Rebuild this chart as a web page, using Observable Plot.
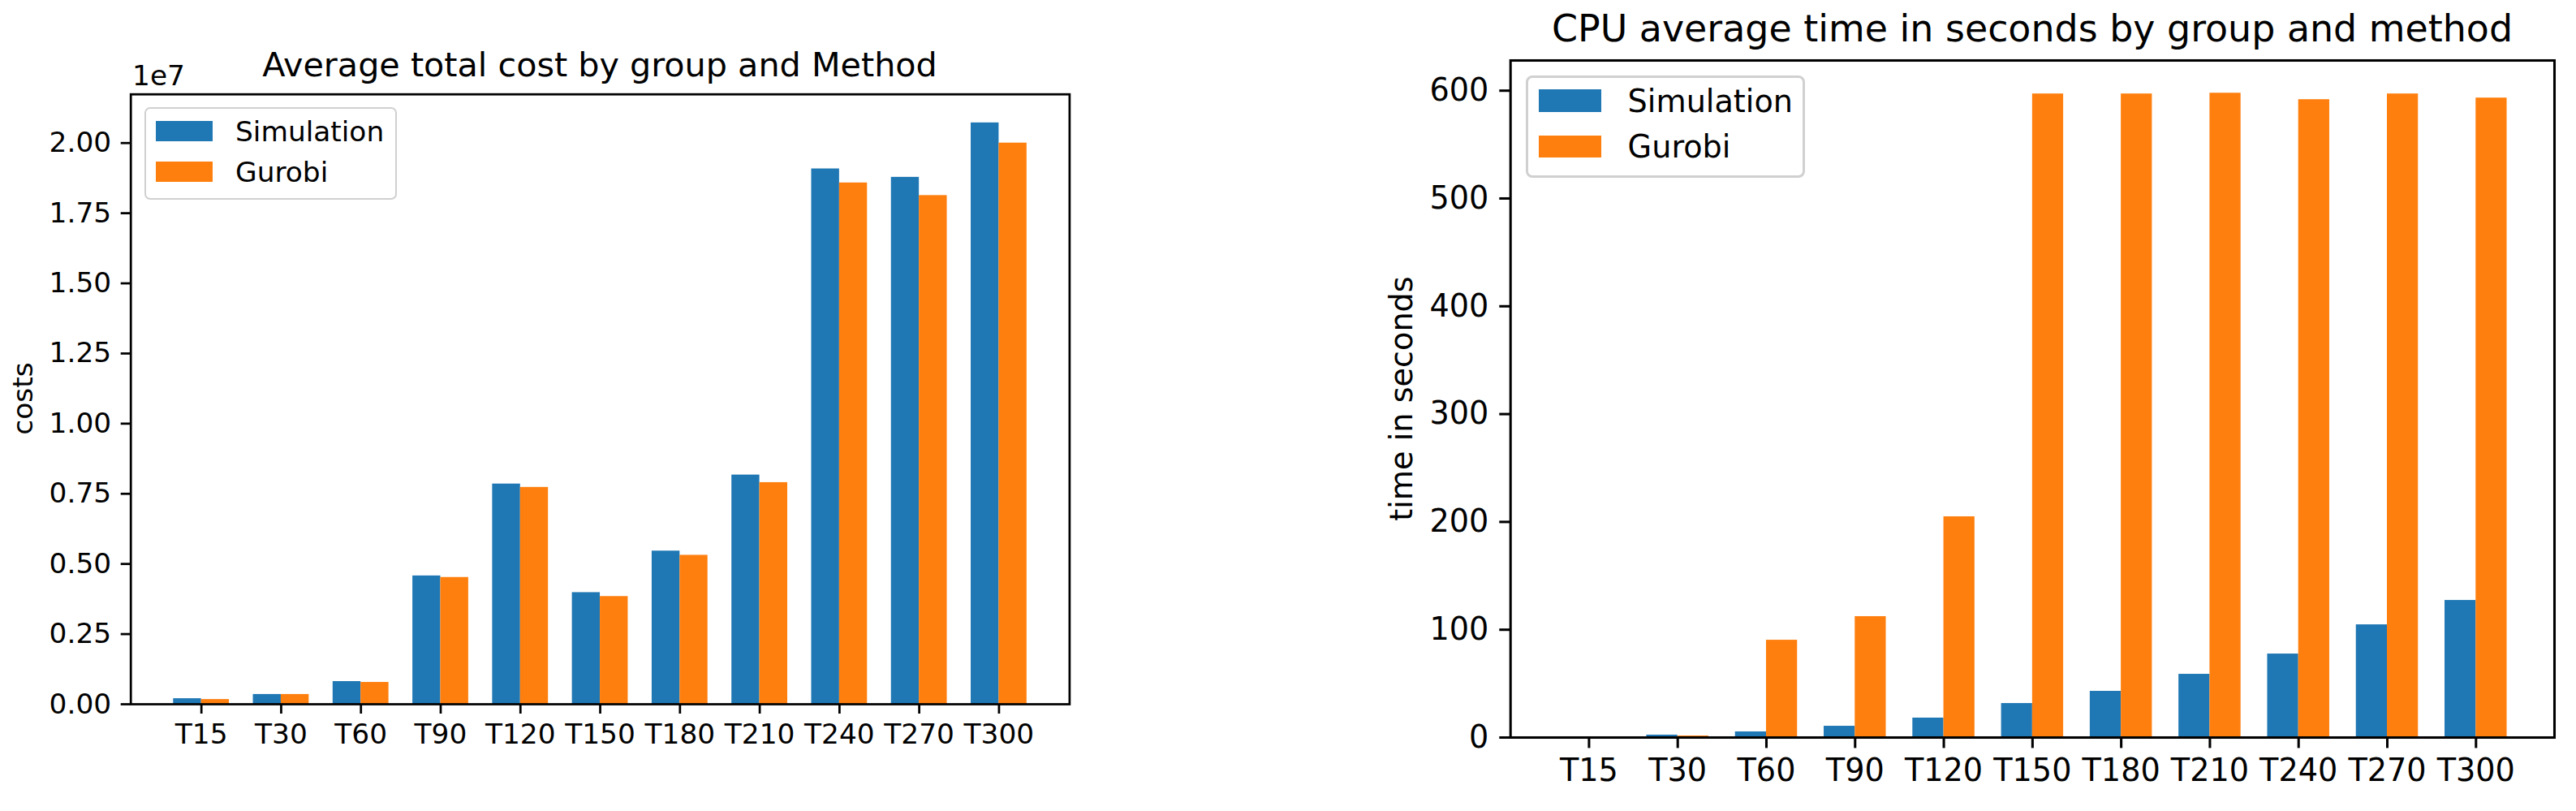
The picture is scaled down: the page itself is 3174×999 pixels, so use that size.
<!DOCTYPE html>
<html>
<head>
<meta charset="utf-8">
<script src="https://cdn.jsdelivr.net/npm/d3@7"></script>
<script src="https://cdn.jsdelivr.net/npm/@observablehq/plot@0.6"></script>
<style>
  html, body { margin: 0; padding: 0; background: white; }
  #page { position: relative; width: 3174px; height: 999px; background: white; overflow: hidden; font-family: "DejaVu Sans", sans-serif; color: black; }
  #page > svg { position: absolute; top: 0; }
  .txt { position: absolute; white-space: nowrap; line-height: 1; font-family: "DejaVu Sans", sans-serif; }
  .box { position: absolute; box-sizing: border-box; background: rgba(255,255,255,0.8); }
  .patch { position: absolute; }
</style>
</head>
<body>
<div id="page"></div>
<script>
// ---------- data ----------
const groups = ["T15","T30","T60","T90","T120","T150","T180","T210","T240","T270","T300"];
const methods = ["Simulation", "Gurobi"];
const methodColors = ["#1f77b4", "#ff7f0e"];

const costSimulation = [200000, 350000, 810000, 4575000, 7850000, 3980000, 5460000, 8170000, 19080000, 18780000, 20720000];
const costGurobi     = [170000, 350000, 780000, 4520000, 7730000, 3840000, 5310000, 7900000, 18580000, 18130000, 20000000];

const timeSimulation = [0.1, 2.3, 5.3, 10.5, 18.1, 31.6, 42.9, 58.7, 77.5, 104.6, 127.2];
const timeGurobi     = [0.05, 1.5, 90.3, 112.2, 204.8, 597.0, 597.0, 597.7, 591.7, 597.0, 593.2];

const costTicks = [0, 2500000, 5000000, 7500000, 10000000, 12500000, 15000000, 17500000, 20000000];
const timeTicks = [0, 100, 200, 300, 400, 500, 600];

// ---------- helpers ----------
const barWidth = 0.35;
function rowsFor(sim, gur) {
  return groups.flatMap((g, i) => [
    {group: g, i, method: methods[0], value: sim[i], x1: i - barWidth, x2: i},
    {group: g, i, method: methods[1], value: gur[i], x1: i, x2: i + barWidth}
  ]);
}
const page = document.getElementById("page");

function addText(str, {x, baseline, size, anchor = "start"}) {
  const d = document.createElement("div");
  d.className = "txt";
  d.textContent = str;
  d.style.fontSize = size + "px";
  d.style.left = x + "px";
  d.style.top = (baseline - 0.846 * size) + "px";
  if (anchor === "middle") d.style.transform = "translateX(-50%)";
  page.appendChild(d);
}
function addYLabel(str, {baselineX, cy, size}) {
  const d = document.createElement("div");
  d.className = "txt";
  d.textContent = str;
  d.style.fontSize = size + "px";
  d.style.left = (baselineX - 0.346 * size) + "px";
  d.style.top = cy + "px";
  d.style.transform = "translate(-50%,-50%) rotate(-90deg)";
  page.appendChild(d);
}
function addLegend({left, top, width, height, border, radius, patchX, patchW, patchH, patchYs, textX, baselines, size}) {
  const b = document.createElement("div");
  b.className = "box";
  Object.assign(b.style, {left: left + "px", top: top + "px", width: width + "px", height: height + "px",
    border: border + "px solid #d0d0d0", borderRadius: radius + "px"});
  page.appendChild(b);
  methods.forEach((m, k) => {
    const p = document.createElement("div");
    p.className = "patch";
    Object.assign(p.style, {left: patchX + "px", top: patchYs[k] + "px", width: patchW + "px", height: patchH + "px", background: methodColors[k]});
    page.appendChild(p);
    addText(m, {x: textX, baseline: baselines[k], size});
  });
}

function chart({rows, width, marginLeft, marginRight, marginTop, marginBottom, yMax, ticks, tickFormat, fontSize, tickSize, stroke}) {
  return Plot.plot({
    width, height: 999,
    marginLeft, marginRight, marginTop, marginBottom,
    x: {domain: [-0.885, groups.length - 1 + 0.885], axis: null},
    y: {domain: [0, yMax], axis: null},
    color: {domain: methods, range: methodColors},
    style: {fontFamily: "DejaVu Sans", fontSize: fontSize + "px", background: "transparent", color: "black", overflow: "visible"},
    marks: [
      Plot.rect(rows, {x1: "x1", x2: "x2", y1: 0, y2: "value", fill: "method"}),
      Plot.axisY({ticks, tickFormat, tickSize, tickPadding: tickSize, strokeWidth: stroke, fontSize, label: null}),
      Plot.axisX({ticks: groups.map((g, i) => i), tickFormat: i => groups[i], tickSize, tickPadding: tickSize, strokeWidth: stroke, fontSize, label: null}),
      Plot.frame({stroke: "black", strokeWidth: stroke})
    ]
  });
}

// ---------- left chart ----------
const left = chart({
  rows: rowsFor(costSimulation, costGurobi),
  width: 1330, marginLeft: 160.7, marginRight: 12.6, marginTop: 115.7, marginBottom: 132,
  yMax: 21736000, ticks: costTicks, tickFormat: d => (d / 1e7).toFixed(2),
  fontSize: 34.4, tickSize: 12, stroke: 2.75
});
left.style.left = "0px";
page.appendChild(left);

// ---------- right chart ----------
const right = chart({
  rows: rowsFor(timeSimulation, timeGurobi),
  width: 1614, marginLeft: 300.7, marginRight: 27, marginTop: 74, marginBottom: 91,
  yMax: 628, ticks: timeTicks, tickFormat: d => String(d),
  fontSize: 38.2, tickSize: 13.4, stroke: 3.05
});
right.style.left = "1560px";
page.appendChild(right);

// ---------- texts ----------
addText("Average total cost by group and Method", {x: 739, baseline: 95, size: 41.3, anchor: "middle"});
addText("1e7", {x: 163, baseline: 105, size: 34.4});
addYLabel("costs", {baselineX: 40, cy: 491.4, size: 34.4});
addLegend({left: 177.7, top: 132, width: 311, height: 114, border: 2.75, radius: 7,
  patchX: 192, patchW: 70, patchH: 25, patchYs: [149, 199], textX: 290, baselines: [174, 223.7], size: 34.4});

addText("CPU average time in seconds by group and method", {x: 2504, baseline: 51.7, size: 45.9, anchor: "middle"});
addYLabel("time in seconds", {baselineX: 1740, cy: 491, size: 38.2});
addLegend({left: 1879.6, top: 92.7, width: 344, height: 126.3, border: 3.05, radius: 8,
  patchX: 1896, patchW: 77, patchH: 27.5, patchYs: [110, 166.5], textX: 2005.6, baselines: [138.3, 194], size: 38.2});
</script>
</body>
</html>
